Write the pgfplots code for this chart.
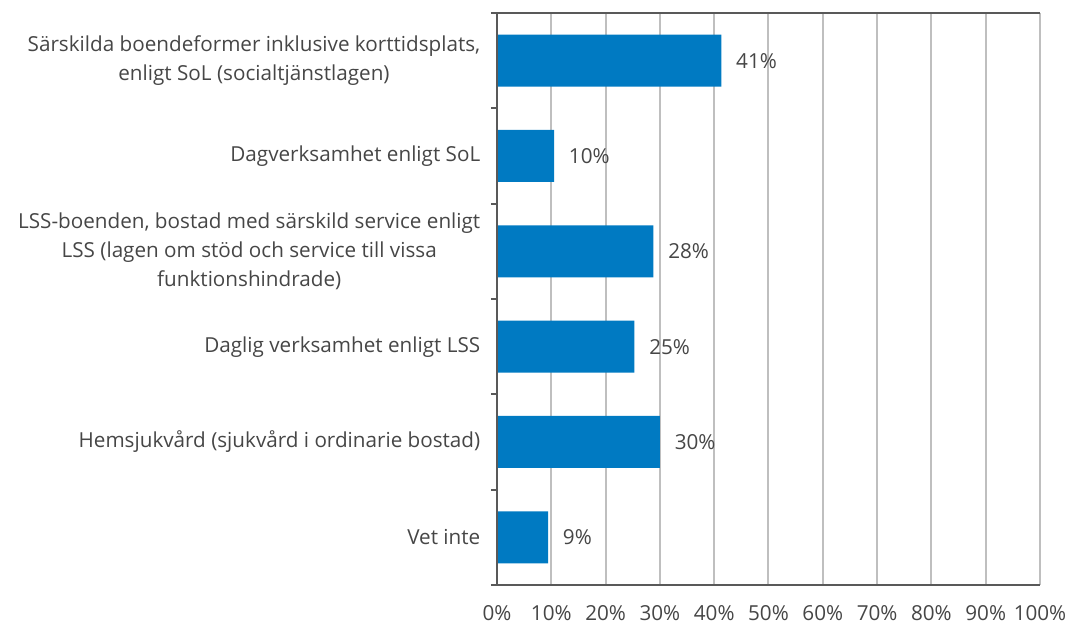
\documentclass[border=0pt]{standalone}
\usepackage{pgfplots}
\pgfplotsset{compat=1.18}
\usepackage{fontspec}
\setmainfont{Open Sans}
\usetikzlibrary{calc}
\definecolor{barblue}{RGB}{0,122,194}
\definecolor{txtgray}{RGB}{70,70,70}
\definecolor{axgray}{RGB}{89,89,89}
\definecolor{gridgray}{RGB}{191,191,191}

\begin{document}
\begin{tikzpicture}[font=\fontsize{15.5}{22}\selectfont]
\begin{axis}[
    name=ax,
    scale only axis,
    width=407.25pt,
    height=429pt,
    xbar,
    bar width=39pt,
    xmin=0, xmax=100,
    ymin=0.5, ymax=6.5,
    xtick={0,10,...,100},
    xticklabels={0\%,10\%,20\%,30\%,40\%,50\%,60\%,70\%,80\%,90\%,100\%},
    ytick={1,2,3,4,5,6},
    yticklabels={
        Vet inte,
        Hemsjukvård (sjukvård i ordinarie bostad),
        Daglig verksamhet enligt LSS,
        {LSS-boenden, bostad med särskild service enligt\\LSS (lagen om stöd och service till vissa\\funktionshindrade)},
        Dagverksamhet enligt SoL,
        {Särskilda boendeformer inklusive korttidsplats,\\enligt SoL (socialtjänstlagen)}
    },
    minor ytick={0.5,1.5,...,6.5},
    ytick pos=left,
    xtick pos=bottom,
    tick align=outside,
    major tick length=0pt,
    minor tick length=4.5pt,
    minor tick style={axgray, line width=1.5pt},
    xmajorgrids,
    major grid style={gridgray, line width=1.5pt},
    axis line style={draw=none},
    xticklabel style={text=txtgray, yshift=-12pt},
    yticklabel style={text=txtgray, align=center, xshift=-9pt},
    nodes near coords,
    point meta=explicit symbolic,
    every node near coord/.append style={text=txtgray, anchor=west, inner sep=0pt, xshift=11pt},
    clip=false,
]
\addplot[fill=barblue, draw=none] coordinates {
    (41.3,6) [41\%]
    (10.5,5) [10\%]
    (28.8,4) [28\%]
    (25.3,3) [25\%]
    (30.0,2) [30\%]
    (9.4,1) [9\%]
};
\draw[axgray, line width=1.5pt] (rel axis cs:0,0) -- (rel axis cs:0,1);
\draw[axgray, line width=1.5pt] (rel axis cs:-0.01,1) -- (rel axis cs:1,1);
\draw[axgray, line width=1.5pt] (rel axis cs:0,0) -- (rel axis cs:1,0);
\end{axis}
\pgfresetboundingbox
\path ($(ax.south west)+(-372.75pt,-30.75pt)$) rectangle ($(ax.north east)+(23.25pt,9.75pt)$);
\end{tikzpicture}
\end{document}
